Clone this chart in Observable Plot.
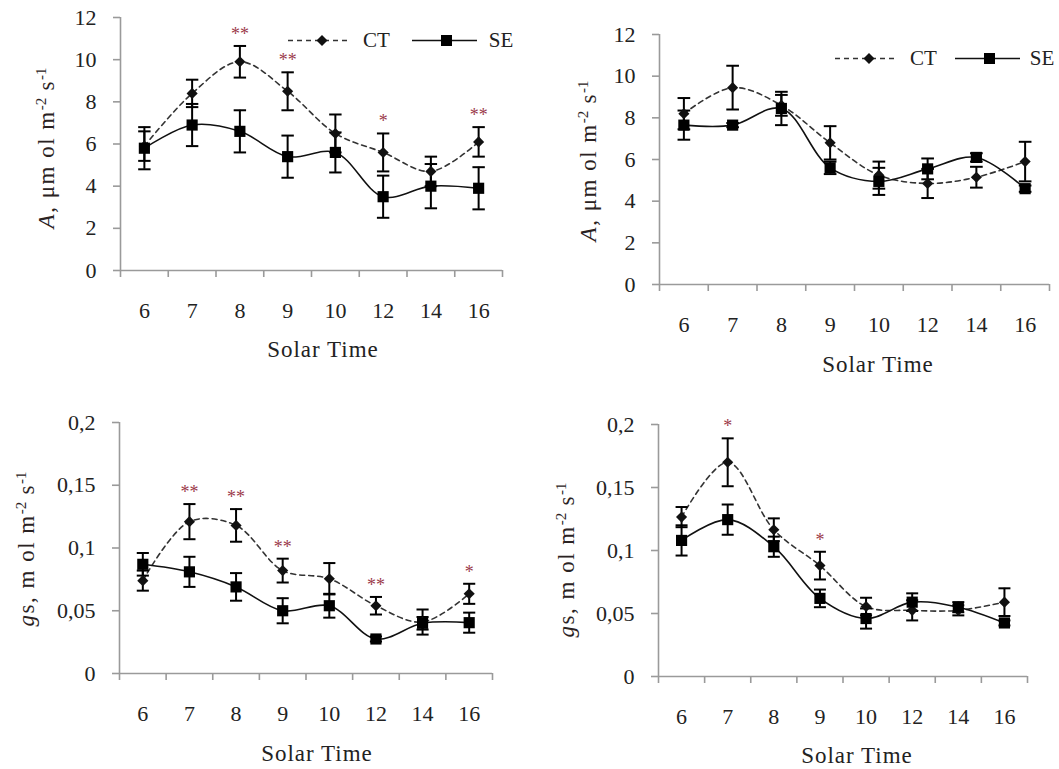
<!DOCTYPE html>
<html>
<head>
<meta charset="utf-8">
<script src="https://cdn.jsdelivr.net/npm/d3@7"></script>
<script src="https://cdn.jsdelivr.net/npm/@observablehq/plot@0.6"></script>
<style>
  html, body { margin: 0; padding: 0; background: #fff; }
  #wrap { position: relative; width: 1059px; height: 769px; overflow: hidden; background: #fff;
          font-family: "Liberation Serif", "Times New Roman", serif; color: #222; }
  .panel { position: absolute; }
  .ylab { position: absolute; white-space: nowrap; font-size: 23px; line-height: 1; letter-spacing: 1.5px;
          transform: translate(-50%, -50%) rotate(-90deg); color: #2a2222; }
  .ylab sup { font-size: 15px; vertical-align: 0.5em; line-height: 0; letter-spacing: 0; }
  .xlab { position: absolute; white-space: nowrap; font-size: 23px; line-height: 1; letter-spacing: 1px;
          transform: translate(-50%, -50%); color: #222; }
  .legend { position: absolute; display: flex; align-items: center; font-size: 21px; line-height: 1; color: #222;
            transform: translateY(-50%); }
</style>
</head>
<body>
<div id="wrap"></div>
<script>
// ---------- data ----------
const times = ["6", "7", "8", "9", "10", "12", "14", "16"];

// top-left: A (μmol m-2 s-1)
const aCT_L    = [5.9, 8.4, 9.9, 8.5, 6.5, 5.6, 4.7, 6.1];
const aCTerr_L = [0.7, 0.65, 0.75, 0.9, 0.9, 0.9, 0.7, 0.7];
const aSE_L    = [5.8, 6.9, 6.6, 5.4, 5.6, 3.5, 4.0, 3.9];
const aSEerr_L = [1.0, 1.0, 1.0, 1.0, 0.95, 1.0, 1.05, 1.0];
const aSig_L   = ["", "", "**", "**", "", "*", "", "**"];

// top-right: A
const aCT_R    = [8.2, 9.45, 8.6, 6.8, 5.25, 4.85, 5.15, 5.9];
const aCTerr_R = [0.75, 1.05, 0.5, 0.8, 0.65, 0.7, 0.5, 0.95];
const aSE_R    = [7.65, 7.65, 8.45, 5.6, 4.95, 5.55, 6.1, 4.6];
const aSEerr_R = [0.7, 0.1, 0.8, 0.3, 0.65, 0.5, 0.2, 0.15];
const aSig_R   = ["", "", "", "", "", "", "", ""];

// bottom-left: gs (mol m-2 s-1)
const gCT_L    = [0.074, 0.121, 0.118, 0.082, 0.0755, 0.054, 0.041, 0.0635];
const gCTerr_L = [0.008, 0.014, 0.013, 0.0095, 0.0125, 0.007, 0.010, 0.008];
const gSE_L    = [0.087, 0.081, 0.069, 0.050, 0.054, 0.0275, 0.040, 0.0405];
const gSEerr_L = [0.009, 0.012, 0.011, 0.010, 0.0095, 0.002, 0.005, 0.008];
const gSig_L   = ["", "**", "**", "**", "", "**", "", "*"];

// bottom-right: gs
const gCT_R    = [0.1265, 0.170, 0.1165, 0.088, 0.0555, 0.0525, 0.0525, 0.059];
const gCTerr_R = [0.008, 0.019, 0.009, 0.011, 0.007, 0.008, 0.004, 0.011];
const gSE_R    = [0.108, 0.1245, 0.103, 0.062, 0.046, 0.059, 0.055, 0.0425];
const gSEerr_R = [0.012, 0.012, 0.008, 0.007, 0.008, 0.007, 0.004, 0.002];
const gSig_R   = ["", "*", "", "*", "", "", "", ""];

const aTicks = [0, 2, 4, 6, 8, 10, 12];
const gTicks = [0, 0.05, 0.1, 0.15, 0.2];

// ---------- drawing ----------
const wrap = document.getElementById("wrap");
const AXIS = "#9a9a9a";
const FONT = "'Liberation Serif', 'Times New Roman', serif";

function drawPanel(cfg) {
  const rows = times.map((t, i) => ({
    x: i + 0.5, ct: cfg.ct[i], cte: cfg.cte[i], se: cfg.se[i], see: cfg.see[i], sig: cfg.sig[i]
  }));
  const errs = rows.flatMap(d => [
    {x: d.x, lo: d.ct - d.cte, hi: d.ct + d.cte},
    {x: d.x, lo: d.se - d.see, hi: d.se + d.see}
  ]);
  const cap = 0.13;
  const fmt = cfg.comma ? (v => String(v).replace(".", ",")) : (v => String(v));
  const svg = Plot.plot({
    width: cfg.w, height: cfg.h,
    marginLeft: cfg.ml, marginRight: cfg.mr, marginTop: cfg.mt, marginBottom: cfg.mb,
    x: {domain: [0, times.length]},
    y: {domain: [0, cfg.ymax]},
    style: {fontFamily: FONT, fontSize: "22px", color: "#222", background: "transparent", overflow: "visible"},
    marks: [
      Plot.ruleX([0], {stroke: AXIS, strokeWidth: 1.6}),
      Plot.ruleY([0], {stroke: AXIS, strokeWidth: 1.6}),
      Plot.axisY({ticks: cfg.ticks, tickSize: 7, tickPadding: 17, tickFormat: fmt,
                  stroke: AXIS, strokeWidth: 1.6, fill: "#222", label: null, fontSize: 22, fontFamily: FONT}),
      Plot.axisX({ticks: d3.range(times.length + 1), tickSize: 7, tickFormat: () => "",
                  stroke: AXIS, strokeWidth: 1.6, label: null}),
      Plot.axisX({ticks: d3.range(times.length).map(i => i + 0.5), tickSize: 0, tickPadding: 32,
                  tickFormat: v => times[Math.floor(v)], fill: "#222", label: null, fontSize: 22, fontFamily: FONT}),
      Plot.line(rows, {x: "x", y: "ct", curve: "catmull-rom", stroke: "#333", strokeWidth: 1.6, strokeDasharray: "5,4"}),
      Plot.line(rows, {x: "x", y: "se", curve: "catmull-rom", stroke: "#111", strokeWidth: 1.6}),
      Plot.ruleX(errs, {x: "x", y1: "lo", y2: "hi", stroke: "#000", strokeWidth: 2}),
      Plot.link(errs, {x1: d => d.x - cap, x2: d => d.x + cap, y1: "hi", y2: "hi", stroke: "#000", strokeWidth: 2}),
      Plot.link(errs, {x1: d => d.x - cap, x2: d => d.x + cap, y1: "lo", y2: "lo", stroke: "#000", strokeWidth: 2}),
      Plot.dot(rows, {x: "x", y: "ct", symbol: "diamond2", r: 5, fill: "#111", stroke: "none"}),
      Plot.dot(rows, {x: "x", y: "se", symbol: "square", r: 6.3, fill: "#000", stroke: "none"}),
      Plot.text(rows.filter(d => d.sig), {x: "x", y: d => d.ct + d.cte, text: "sig", dy: -6,
                lineAnchor: "bottom", fill: "#9b3a4a", fontSize: 18, fontFamily: FONT})
    ]
  });
  const div = document.createElement("div");
  div.className = "panel";
  div.style.left = cfg.left + "px";
  div.style.top = cfg.top + "px";
  div.appendChild(svg);
  wrap.appendChild(div);
}

function addLabel(cls, html, x, y) {
  const d = document.createElement("div");
  d.className = cls;
  d.innerHTML = html;
  d.style.left = x + "px";
  d.style.top = y + "px";
  wrap.appendChild(d);
}

function addLegend(x, y, gap1, gap2) {
  const d = document.createElement("div");
  d.className = "legend";
  d.style.left = x + "px";
  d.style.top = y + "px";
  d.innerHTML =
    `<svg width="63" height="14"><line x1="0" y1="7" x2="63" y2="7" stroke="#333" stroke-width="1.6" stroke-dasharray="5,4"/>` +
    `<path d="M34,1.5 L39.5,7 L34,12.5 L28.5,7 Z" fill="#111"/></svg>` +
    `<span style="margin-left:12px">CT</span>` +
    `<svg width="65" height="14" style="margin-left:${gap1}px"><line x1="0" y1="7" x2="65" y2="7" stroke="#111" stroke-width="1.6"/>` +
    `<rect x="29" y="1.5" width="11" height="11" fill="#000"/></svg>` +
    `<span style="margin-left:${gap2}px">SE</span>`;
  wrap.appendChild(d);
}

const aLab = `<i>A</i>, μm ol m<sup>-2</sup> s<sup>-1</sup>`;
const gLab = `<i>g</i>s, m ol m<sup>-2</sup> s<sup>-1</sup>`;

drawPanel({left: 0, top: 0, w: 530, h: 390, ml: 120, mr: 28, mt: 17, mb: 120,
           ymax: 12, ticks: aTicks, comma: false,
           ct: aCT_L, cte: aCTerr_L, se: aSE_L, see: aSEerr_L, sig: aSig_L});
drawPanel({left: 530, top: 0, w: 529, h: 390, ml: 129, mr: 10, mt: 34, mb: 106,
           ymax: 12, ticks: aTicks, comma: false,
           ct: aCT_R, cte: aCTerr_R, se: aSE_R, see: aSEerr_R, sig: aSig_R});
drawPanel({left: 0, top: 390, w: 530, h: 379, ml: 119, mr: 38, mt: 32, mb: 96,
           ymax: 0.2, ticks: gTicks, comma: true,
           ct: gCT_L, cte: gCTerr_L, se: gSE_L, see: gSEerr_L, sig: gSig_L});
drawPanel({left: 530, top: 390, w: 529, h: 379, ml: 128, mr: 32, mt: 34, mb: 93,
           ymax: 0.2, ticks: gTicks, comma: true,
           ct: gCT_R, cte: gCTerr_R, se: gSE_R, see: gSEerr_R, sig: gSig_R});

addLabel("ylab", aLab, 46, 148);
addLabel("ylab", aLab, 588, 161);
addLabel("ylab", gLab, 26, 549);
addLabel("ylab", gLab, 566, 560);

addLabel("xlab", "Solar Time", 323, 349);
addLabel("xlab", "Solar Time", 878, 364);
addLabel("xlab", "Solar Time", 317, 753);
addLabel("xlab", "Solar Time", 857, 755);

addLegend(288, 40, 22, 12);
addLegend(835, 58, 18, 10);
</script>
</body>
</html>
